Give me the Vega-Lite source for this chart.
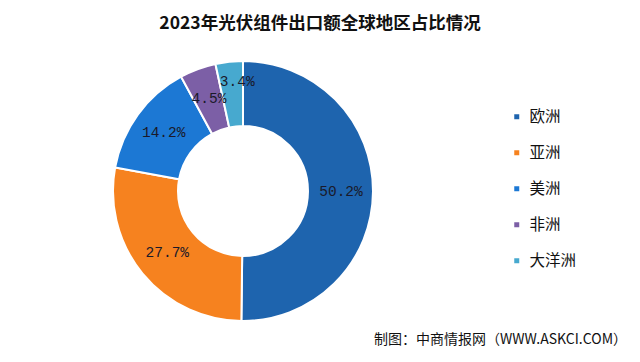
{
  "$schema": "https://vega.github.io/schema/vega-lite/v6.json",
  "autosize": {"type": "none"},
  "width": 260,
  "height": 260,
  "padding": {"left": 113, "top": 61, "right": 267, "bottom": 41},
  "background": "#ffffff",
  "title": {
    "text": "2023年光伏组件出口额全球地区占比情况",
    "font": "Noto Sans CJK SC",
    "fontSize": 17.5,
    "fontWeight": "bold",
    "color": "#111111",
    "anchor": "middle",
    "dx": 77,
    "offset": 25
  },
  "config": {"view": {"stroke": null}},
  "layer": [
    {
      "data": {"values": [
        {"region": "欧洲", "value": 50.2, "idx": 1, "label": "50.2%"},
        {"region": "亚洲", "value": 27.7, "idx": 2, "label": "27.7%"},
        {"region": "美洲", "value": 14.2, "idx": 3, "label": "14.2%"},
        {"region": "非洲", "value": 4.5, "idx": 4, "label": "4.5%"},
        {"region": "大洋洲", "value": 3.4, "idx": 5, "label": "3.4%"}
      ]},
      "layer": [
        {
          "mark": {"type": "arc", "outerRadius": 130, "innerRadius": 65, "stroke": "#ffffff", "strokeWidth": 2},
          "encoding": {
            "theta": {"field": "value", "type": "quantitative", "stack": true},
            "order": {"field": "idx", "type": "quantitative"},
            "color": {
              "field": "region",
              "type": "nominal",
              "sort": ["欧洲", "亚洲", "美洲", "非洲", "大洋洲"],
              "scale": {
                "domain": ["欧洲", "亚洲", "美洲", "非洲", "大洋洲"],
                "range": ["#1e64ae", "#f6821f", "#1c78d4", "#7c5fa6", "#47a9cf"]
              },
              "legend": {
                "orient": "none",
                "legendX": 396,
                "legendY": 48,
                "title": null,
                "symbolType": "square",
                "symbolSize": 25,
                "symbolStrokeWidth": 0,
                "labelFont": "Noto Sans CJK SC",
                "labelFontSize": 15.5,
                "labelColor": "#111111",
                "rowPadding": 19,
                "labelOffset": 5
              }
            }
          }
        },
        {
          "mark": {"type": "text", "radius": 98, "font": "Liberation Mono", "fontSize": 14.5, "color": "#1a1a2a"},
          "encoding": {
            "theta": {"field": "value", "type": "quantitative", "stack": true},
            "order": {"field": "idx", "type": "quantitative"},
            "detail": {"field": "region", "type": "nominal"},
            "text": {"condition": {"test": "datum.region === '大洋洲'", "value": ""}, "field": "label", "type": "nominal"}
          }
        },
        {
          "mark": {"type": "text", "radius": 110, "dx": 6, "font": "Liberation Mono", "fontSize": 14.5, "color": "#1a1a2a"},
          "encoding": {
            "theta": {"field": "value", "type": "quantitative", "stack": true},
            "order": {"field": "idx", "type": "quantitative"},
            "detail": {"field": "region", "type": "nominal"},
            "text": {"condition": {"test": "datum.region !== '大洋洲'", "value": ""}, "field": "label", "type": "nominal"}
          }
        }
      ]
    },
    {
      "data": {"values": [{"t": "制图：中商情报网（WWW.ASKCI.COM）"}]},
      "mark": {"type": "text", "align": "right", "baseline": "middle", "font": "Noto Sans CJK SC", "fontSize": 14, "color": "#111111"},
      "encoding": {
        "text": {"field": "t", "type": "nominal"},
        "x": {"value": 514},
        "y": {"value": 279}
      }
    }
  ]
}
